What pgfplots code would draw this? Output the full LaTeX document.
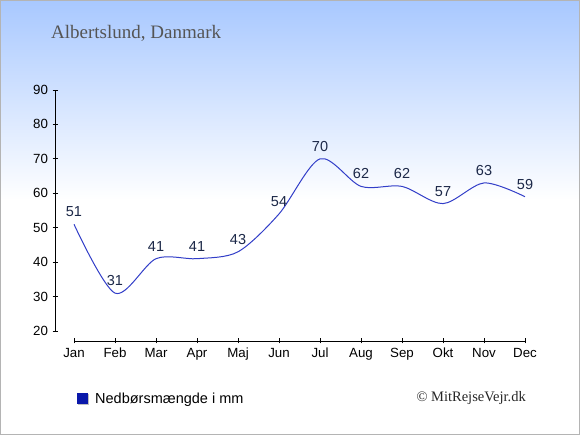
\documentclass[border=0pt]{standalone}
\usepackage{fontspec}
\setmainfont{Liberation Sans}
\newfontfamily\seriffont{Liberation Serif}
\usepackage{pgfplots}
\pgfplotsset{compat=1.18}
\definecolor{topblue}{RGB}{168,200,255}
\definecolor{bordergray}{RGB}{180,180,180}
\definecolor{lineblue}{RGB}{50,62,200}
\definecolor{labelnavy}{RGB}{28,40,72}
\definecolor{legendblue}{RGB}{10,24,170}
\definecolor{titlegray}{RGB}{85,85,85}
\begin{document}
\begin{tikzpicture}[x=1bp,y=1bp]
\useasboundingbox (0,0) rectangle (580,435);
\fill[white] (0,0) rectangle (580,236);
\shade[top color=topblue, bottom color=white] (0,235) rectangle (580,435);
\draw[bordergray, line width=1bp] (0.5,0.5) rectangle (579.5,434.5);
\node[anchor=base west, font=\seriffont\fontsize{19bp}{22bp}\selectfont, text=titlegray, inner sep=0pt] at (51,396.7) {Albertslund, Danmark};
\node[anchor=base east, font=\seriffont\fontsize{14.5bp}{17bp}\selectfont, text=black!85, inner sep=0pt] at (526,33.3) {© MitRejseVejr.dk};
\begin{axis}[
  at={(55bp,94bp)}, anchor=south west,
  scale only axis, width=470bp, height=251bp,
  xmin=-0.4634, xmax=11, ymin=17.095, ymax=90,
  clip=false,
  axis line style={draw=none},
  xtick={0,...,11},
  xticklabels={Jan,Feb,Mar,Apr,Maj,Jun,Jul,Aug,Sep,Okt,Nov,Dec},
  ytick={20,30,...,90},
  tick pos=left,
  tick align=center,
  major tick length=5bp,
  tick style={black, line width=0.8bp},
  /pgf/number format/assume math mode=true,
  tick label style={font=\fontsize{13.3bp}{16bp}\selectfont, text=black},
  xticklabel style={yshift=-1bp},
  yticklabel style={xshift=-1bp},
  legend style={draw=none, fill=none, at={(0.0468,-0.231)}, anchor=west, inner sep=0pt,
    font=\fontsize{14.5bp}{17bp}\selectfont, legend cell align=left,
    /tikz/every odd column/.append style={column sep=4bp}},
  legend image code/.code={
    \fill[black!25] (1bp,-6bp) rectangle (11bp,4bp);
    \fill[legendblue] (0bp,-5bp) rectangle (10bp,5bp);
  },
]
\draw[black, line width=0.8bp] (axis cs:-0.4634,20) -- (axis cs:-0.4634,90);
\draw[black, line width=0.8bp] (axis cs:0,17.095) -- (axis cs:11,17.095);
\addplot[color=lineblue, line width=1bp, smooth, mark=none,
  nodes near coords,
  every node near coord/.append style={anchor=center, yshift=12.5bp, text=labelnavy,
    font=\fontsize{14.5bp}{17bp}\selectfont},
] coordinates {
(0,51) (1,31) (2,41) (3,41) (4,43) (5,54) (6,70) (7,62) (8,62) (9,57) (10,63) (11,59)
};
\addlegendentry{Nedbørsmængde i mm}
\end{axis}
\end{tikzpicture}
\end{document}
